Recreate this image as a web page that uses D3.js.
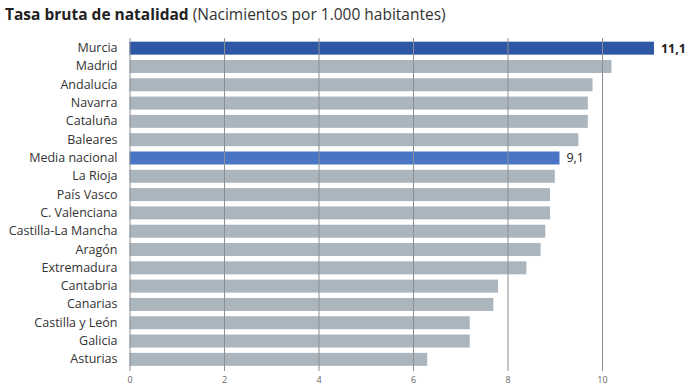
<!DOCTYPE html>
<html lang="es">
<head>
<meta charset="UTF-8">
<title>Tasa bruta de natalidad</title>
<style>
body { margin: 0; background: #fff; }
svg { font-family: "Open Sans", sans-serif; display: block; }
.axis .domain { display: none; }
.axis line { display: none; }
</style>
</head>
<body>
<svg width="700" height="392"></svg>
<script src="https://d3js.org/d3.v7.min.js"></script>
<script>

var regions = ["Murcia", "Madrid", "Andalucía", "Navarra", "Cataluña", "Baleares",
  "Media nacional", "La Rioja", "País Vasco", "C. Valenciana", "Castilla-La Mancha",
  "Aragón", "Extremadura", "Cantabria", "Canarias", "Castilla y León", "Galicia", "Asturias"];
var values = [11.1, 10.2, 9.8, 9.7, 9.7, 9.5, 9.1, 9.0, 8.9, 8.9, 8.8, 8.7, 8.4, 7.8, 7.7, 7.2, 7.2, 6.3];
var ticks = [0, 2, 4, 6, 8, 10];
// only these bars get a label and a blue colour
var labelled = {"Murcia": "11,1", "Media nacional": "9,1"};

var data = regions.map(function(r, i) { return {name: r, value: values[i]}; });

var svg = d3.select("svg");

var x = d3.scaleLinear().domain([0, 10]).range([129.5, 602]);
var y = d3.scaleBand().domain(regions).range([39, 368.5]).paddingInner(0.29).paddingOuter(0.145);

var color = function(d) {
  if (d.name == "Murcia") return "#2e58a6";
  if (d.name == "Media nacional") return "#4a74c4";
  return "#abb5be";
};

// title
var title = svg.append("text")
    .attr("x", 5)
    .attr("y", 20)
    .attr("font-size", 15.5)
    .attr("fill", "#222");
title.append("tspan").attr("font-weight", "bold").text("Tasa bruta de natalidad");
title.append("tspan").attr("fill", "#333").text(" (Nacimientos por 1.000 habitantes)");

// bars
svg.append("g")
  .selectAll("rect")
  .data(data)
  .enter().append("rect")
    .attr("x", x(0))
    .attr("y", function(d) { return y(d.name); })
    .attr("width", function(d) { return x(d.value) - x(0); })
    .attr("height", y.bandwidth())
    .attr("fill", color);

// grid lines on top of bars
svg.append("g")
  .selectAll("line")
  .data(ticks)
  .enter().append("line")
    .attr("x1", function(d) { return x(d) + 0.5; })
    .attr("x2", function(d) { return x(d) + 0.5; })
    .attr("y1", 38)
    .attr("y2", 371)
    .attr("stroke", "#8a8f95")
    .attr("stroke-width", 1);

// category labels
svg.append("g")
    .attr("class", "axis")
    .attr("transform", "translate(" + (x(0) - 5) + ",0)")
    .call(d3.axisLeft(y).tickSize(0).tickPadding(7))
    .selectAll("text")
    .attr("font-size", 12.5)
    .attr("font-family", "Open Sans, sans-serif")
    .attr("fill", "#333");

// x axis labels
svg.append("g")
    .attr("class", "axis")
    .attr("transform", "translate(0,372)")
    .call(d3.axisBottom(x).tickValues(ticks).tickSize(0).tickPadding(5))
    .selectAll("text")
    .attr("font-size", 9)
    .attr("font-family", "Open Sans, sans-serif")
    .attr("fill", "#666");

// value labels
svg.append("g")
  .selectAll("text")
  .data(data.filter(function(d) { return labelled[d.name]; }))
  .enter().append("text")
    .attr("x", function(d) { return x(d.value) + 7; })
    .attr("y", function(d) { return y(d.name) + y.bandwidth() / 2; })
    .attr("dy", "0.35em")
    .attr("font-size", 12.5)
    .attr("font-weight", function(d) { return d.name == "Murcia" ? "bold" : "normal"; })
    .attr("fill", "#222")
    .text(function(d) { return labelled[d.name]; });

</script>
</body>
</html>
